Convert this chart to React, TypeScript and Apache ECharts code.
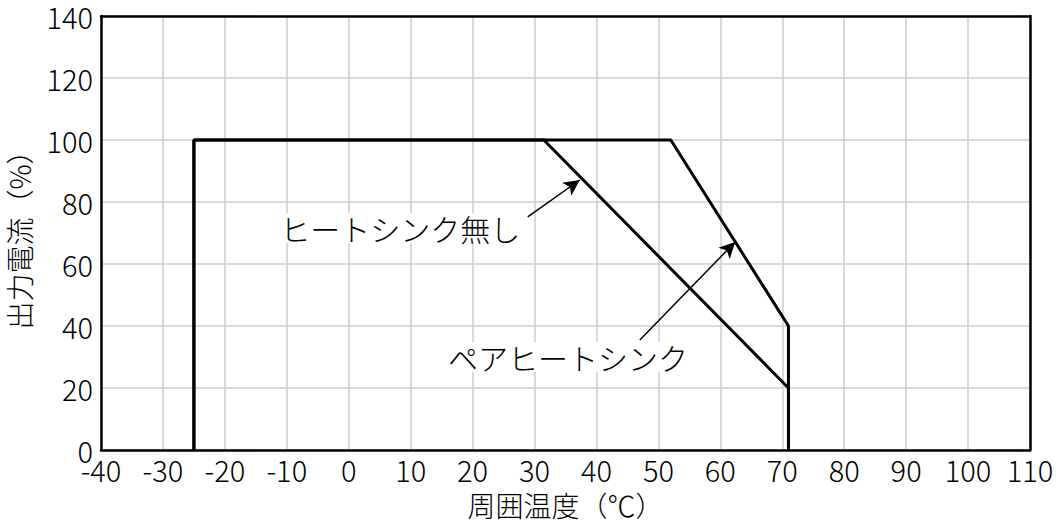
import { useEffect, useRef } from "react";
import * as echarts from "echarts";

// 周囲温度 (℃) と 出力電流 (%) のディレーティング曲線
const noHeatsinkTemp = [-25, -25, 31.5, 71, 71];
const noHeatsinkCurrent = [0, 100, 100, 20, 0];
const pairHeatsinkTemp = [-25, -25, 52, 71, 71];
const pairHeatsinkCurrent = [0, 100, 100, 40, 0];

const seriesNames = ["ヒートシンク無し", "ペアヒートシンク"];
// 注釈の矢印: [始点温度, 始点電流, 終点温度, 終点電流]
const arrowNoHeatsink = [28.9, 75.2, 37.3, 87.1];
const arrowPairHeatsink = [47.0, 35.5, 62.4, 67.1];
// 注釈テキストの位置 (データ座標)
const labelNoHeatsink = [8.3, 71.6];
const labelPairHeatsink = [35.4, 30.0];

const FONT = "'Noto Sans CJK JP', 'Noto Sans', sans-serif";

export default function App() {
  const chartRef = useRef<HTMLDivElement>(null);

  useEffect(() => {
    if (!chartRef.current) return;
    document.body.style.margin = "0";
    const chart = echarts.init(chartRef.current, null, { renderer: "svg" });

    const toPoints = (xs: number[], ys: number[]) => xs.map((x, i) => [x, ys[i]]);

    const arrow = (a: number[]) => [
      { coord: [a[0], a[1]], symbol: "none" },
      { coord: [a[2], a[3]], symbol: "arrow" },
    ];

    const textPoint = (name: string, p: number[]) => ({
      name,
      coord: p,
      symbolSize: 0,
      label: {
        show: true,
        formatter: name,
        position: "inside",
        fontSize: 30,
        fontWeight: 300,
        fontFamily: FONT,
        color: "#000",
        backgroundColor: "#fff",
        padding: [0, 3],
      },
    });

    const frameAxis = {
      show: true,
      axisLine: { show: true, onZero: false, lineStyle: { color: "#000", width: 2.5 } },
      axisTick: { show: false },
      axisLabel: { show: false },
      splitLine: { show: false },
    };

    const option: echarts.EChartsOption = {
      animation: false,
      backgroundColor: "#fff",
      textStyle: { fontFamily: FONT },
      grid: {
        left: 101,
        right: 28,
        top: 16,
        bottom: 75,
        outerBoundsMode: "none",
      } as any,
      xAxis: [
        {
          type: "value",
          min: -40,
          max: 110,
          interval: 10,
          name: "周囲温度（℃）",
          nameLocation: "middle",
          nameGap: 41,
          nameTextStyle: {
            fontSize: 28,
            fontWeight: 300,
            color: "#000",
            fontFamily: FONT,
            lineHeight: 28,
          },
          axisLine: { show: true, onZero: false, lineStyle: { color: "#000", width: 2.5 } },
          axisTick: { show: false },
          axisLabel: {
            fontSize: 29,
            fontWeight: 300,
            color: "#000",
            margin: 4,
            lineHeight: 29,
            fontFamily: FONT,
          },
          splitLine: { show: true, lineStyle: { color: "#cccccc", width: 1.5 } },
        },
        { type: "value", position: "top", min: -40, max: 110, ...frameAxis } as any,
      ],
      yAxis: [
        {
          type: "value",
          min: 0,
          max: 140,
          interval: 20,
          name: "出力電流（%）",
          nameLocation: "middle",
          nameGap: 68,
          nameTextStyle: { fontSize: 28, fontWeight: 300, color: "#000", fontFamily: FONT },
          axisLine: { show: true, onZero: false, lineStyle: { color: "#000", width: 2.5 } },
          axisTick: { show: false },
          axisLabel: {
            fontSize: 29,
            fontWeight: 300,
            color: "#000",
            margin: 8,
            lineHeight: 29,
            fontFamily: FONT,
          },
          splitLine: { show: true, lineStyle: { color: "#cccccc", width: 1.5 } },
        },
        { type: "value", position: "right", min: 0, max: 140, ...frameAxis } as any,
      ],
      series: [
        {
          name: seriesNames[0],
          type: "line",
          data: toPoints(noHeatsinkTemp, noHeatsinkCurrent),
          showSymbol: false,
          lineStyle: { color: "#000", width: 3 },
          markLine: {
            silent: true,
            symbolSize: [12, 16],
            lineStyle: { color: "#000", width: 1.5, type: "solid" },
            label: { show: false },
            data: [arrow(arrowNoHeatsink) as any],
          },
          markPoint: {
            silent: true,
            symbol: "circle",
            data: [textPoint(seriesNames[0], labelNoHeatsink) as any],
          },
        },
        {
          name: seriesNames[1],
          type: "line",
          data: toPoints(pairHeatsinkTemp, pairHeatsinkCurrent),
          showSymbol: false,
          lineStyle: { color: "#000", width: 3 },
          markLine: {
            silent: true,
            symbolSize: [12, 16],
            lineStyle: { color: "#000", width: 1.5, type: "solid" },
            label: { show: false },
            data: [arrow(arrowPairHeatsink) as any],
          },
          markPoint: {
            silent: true,
            symbol: "circle",
            data: [textPoint(seriesNames[1], labelPairHeatsink) as any],
          },
        },
      ],
    };

    chart.setOption(option);

    const handleResize = () => chart.resize();
    window.addEventListener("resize", handleResize);
    return () => {
      window.removeEventListener("resize", handleResize);
      chart.dispose();
    };
  }, []);

  return <div ref={chartRef} style={{ width: 1058, height: 525 }} />;
}
